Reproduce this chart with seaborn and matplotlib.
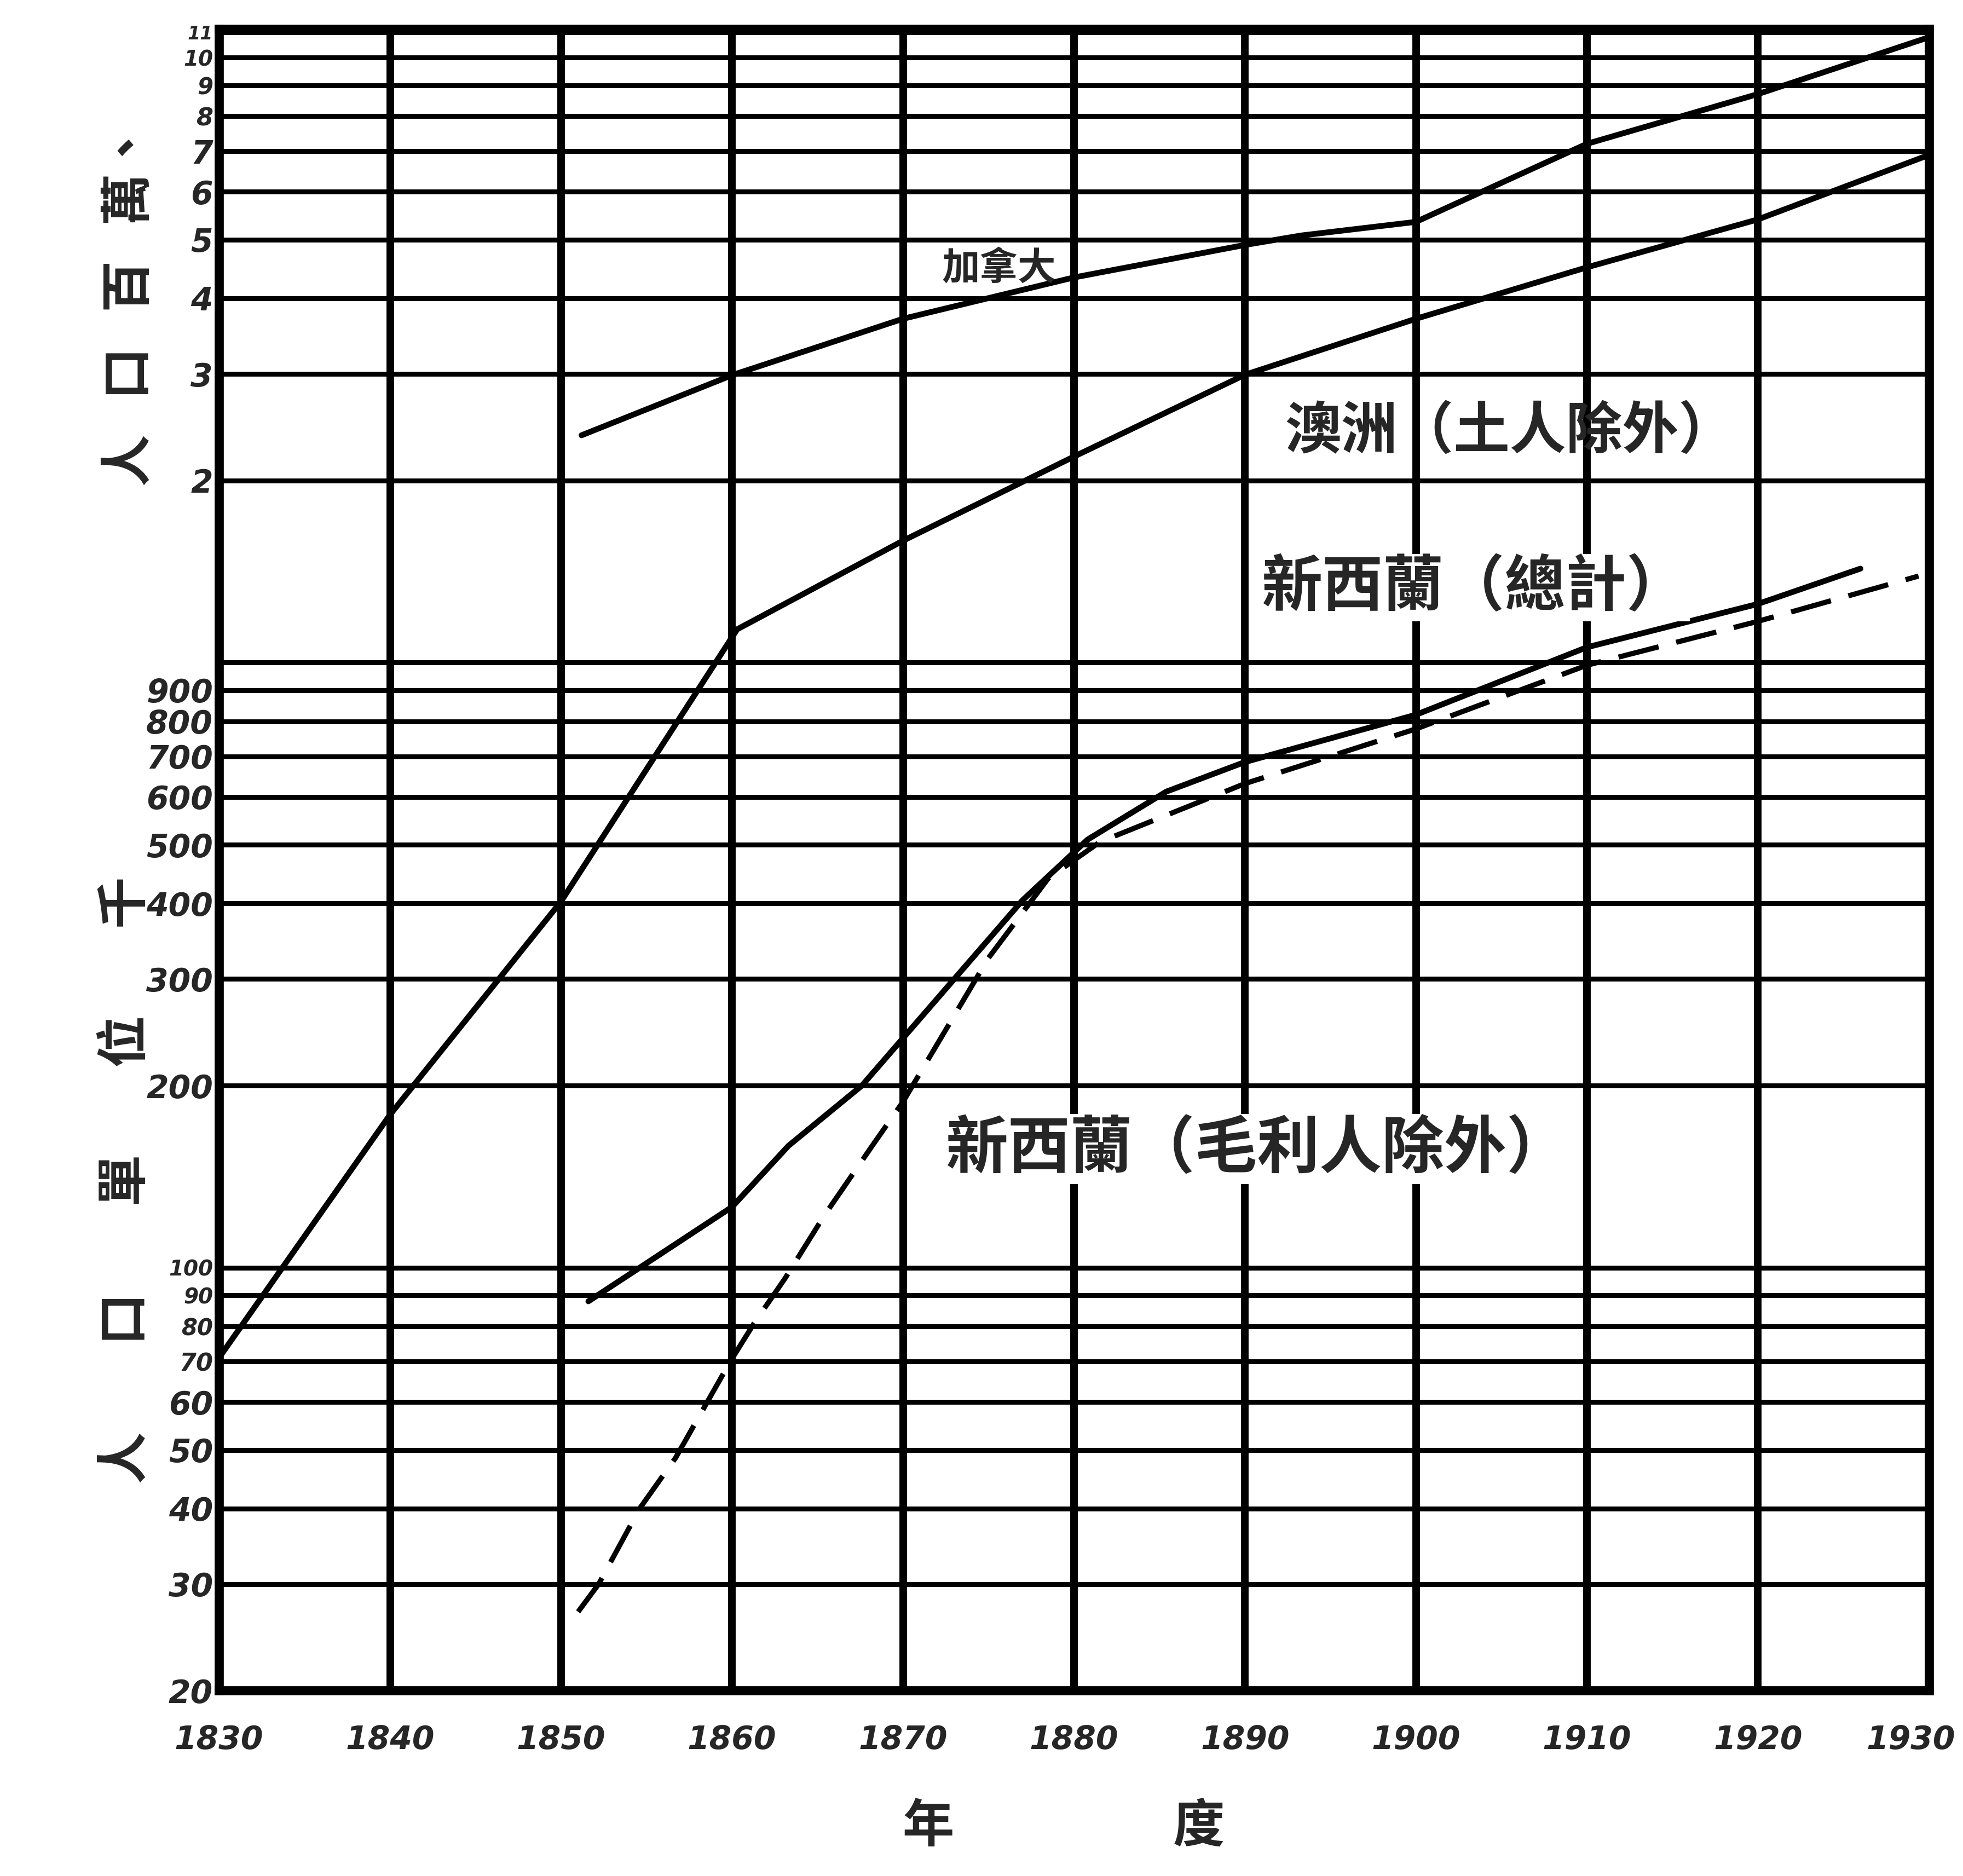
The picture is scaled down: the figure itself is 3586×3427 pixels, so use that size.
import matplotlib
matplotlib.use("Agg")
import matplotlib.pyplot as plt
import seaborn as sns
from matplotlib.ticker import NullLocator

# 人口 (單位千), 圖上讀出
canada_years = [1851.2, 1860, 1870, 1880, 1890, 1893.3, 1900, 1910, 1920, 1930]
canada_pop = [2375, 2985, 3700, 4330, 4900, 5080, 5350, 7200, 8700, 10800]

aus_years = [1830, 1840, 1850, 1860.3, 1870, 1880, 1890, 1900, 1910, 1920, 1930]
aus_pop = [71, 179, 403, 1135, 1590, 2190, 2990, 3700, 4500, 5400, 6900]

nz_total_years = [1851.6, 1854.6, 1860, 1863.3, 1867.6, 1873, 1877, 1880.8, 1885.4, 1890,
                  1900, 1910, 1920, 1926]
nz_total_pop = [88, 100, 126, 159, 200, 300, 405, 510, 612, 685, 820, 1060, 1250, 1430]

nz_white_years = [1851, 1852.2, 1854.6, 1856.7, 1858.7, 1859.9, 1861.3, 1863.1, 1865.4, 1868.2,
                  1870, 1875, 1878.5, 1881.5, 1890, 1900, 1910, 1920, 1929.4]
nz_white_pop = [27, 30, 40, 48.5, 61, 70, 81, 96, 122, 159, 188, 325, 440, 505, 631, 777, 990,
                1170, 1390]

year_ticks = list(range(1830, 1931, 10))
year_labels = [str(y) for y in year_ticks]
pop_ticks = [20, 30, 40, 50, 60, 70, 80, 90, 100, 200, 300, 400, 500, 600, 700, 800, 900,
             1000, 2000, 3000, 4000, 5000, 6000, 7000, 8000, 9000, 10000, 11000]
pop_tick_labels = ["20", "30", "40", "50", "60", "70", "80", "90", "100", "200", "300", "400",
                   "500", "600", "700", "800", "900", "", "2", "3", "4", "5", "6", "7", "8",
                   "9", "10", "11"]
# 擠在一起的刻度字要小一點
small_labels = {"11": 12, "10": 14, "9": 15, "8": 16, "100": 14, "90": 14, "80": 15, "70": 16}

sns.set_theme(style="white")
cjk = ["Noto Sans CJK TC", "DejaVu Sans"]
plt.rcParams["font.family"] = cjk

fig = plt.figure(figsize=(3586 / 200, 3427 / 200), dpi=200)
ax = fig.add_axes([0.1116, 0.0988, 0.8710, 0.8858])

ax.set_yscale("log")
ax.set_xlim(1830, 1930)
ax.set_ylim(20, 11150)

sns.lineplot(x=canada_years, y=canada_pop, ax=ax, color="black", linewidth=3.8, sort=False, zorder=3)
sns.lineplot(x=aus_years, y=aus_pop, ax=ax, color="black", linewidth=3.8, sort=False, zorder=3)
sns.lineplot(x=nz_total_years, y=nz_total_pop, ax=ax, color="black", linewidth=3.8, sort=False, zorder=3)
sns.lineplot(x=nz_white_years, y=nz_white_pop, ax=ax, color="black", linewidth=3.4, sort=False,
             linestyle=(0, (8, 3.5)), zorder=3)

# 網格與刻度
tick_font = dict(fontsize=21, fontstyle="italic", fontweight="bold", family="DejaVu Sans")
ax.set_xticks(year_ticks)
ax.set_xticklabels(year_labels[:-1] + [""], **tick_font)
# 最後一個年份貼著右邊, 稍微往左移免得被切掉
ax.annotate(year_labels[-1], xy=(year_ticks[-1], 0), xycoords=("data", "axes fraction"),
            xytext=(-12, -22), textcoords="offset points", ha="center", va="top", **tick_font)
ax.set_yticks(pop_ticks)
ax.set_yticklabels(pop_tick_labels, **tick_font)
for lab in ax.get_yticklabels():
    if lab.get_text() in small_labels:
        lab.set_fontsize(small_labels[lab.get_text()])
ax.yaxis.set_minor_locator(NullLocator())
ax.tick_params(axis="both", length=0)
ax.tick_params(axis="x", pad=22)
ax.tick_params(axis="y", pad=4)
ax.grid(True, axis="x", color="black", linewidth=5)
ax.grid(True, axis="y", which="major", color="black", linewidth=3.2)
for s in ax.spines.values():
    s.set_color("black")
    s.set_linewidth(6)
ax.set_xlabel("")
ax.set_ylabel("")

# 曲線名稱
ax.text(1875.6, 4480, "加拿大", fontsize=25, fontweight="bold", ha="center", va="center",
        family=cjk, zorder=4)
ax.text(1905.5, 2410, "澳洲（土人除外）", fontsize=37, fontweight="bold", ha="center",
        va="center", family=cjk, zorder=4)
ax.text(1903.4, 1330, "新西蘭（總計）", fontsize=40, fontweight="bold", ha="center",
        va="center", family=cjk, zorder=4,
        bbox=dict(facecolor="white", edgecolor="none", pad=2))
ax.text(1890.7, 157, "新西蘭（毛利人除外）", fontsize=41, fontweight="bold", ha="center",
        va="center", family=cjk, zorder=4,
        bbox=dict(facecolor="white", edgecolor="none", pad=2))

# 軸名
fig.text(0.066, 0.838, "人   口   百   萬、", rotation=90, fontsize=34, fontweight="bold",
         ha="center", va="center", family=cjk)
fig.text(0.064, 0.371, "人　   口　   單　   位　   千", rotation=90, fontsize=34,
         fontweight="bold", ha="center", va="center", family=cjk)
fig.text(0.542, 0.026, "年　　　　 度", fontsize=34, fontweight="bold", ha="center",
         va="center", family=cjk)

fig.savefig("out.png", dpi=200, facecolor="white")
